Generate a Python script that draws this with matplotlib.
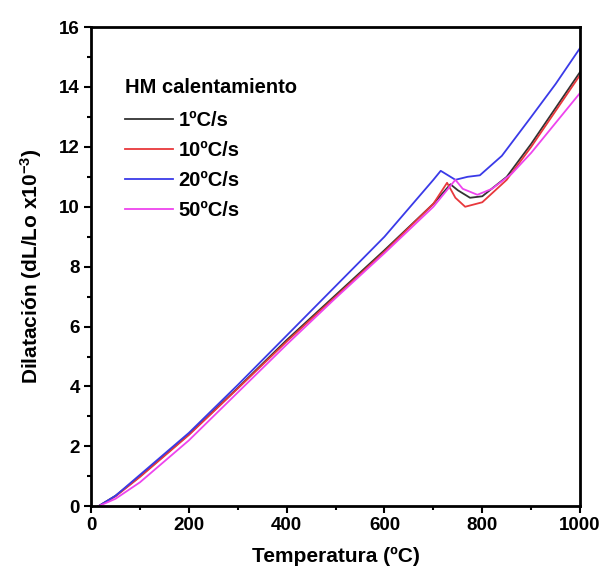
import matplotlib
matplotlib.use("Agg")
import matplotlib.pyplot as plt
from matplotlib.ticker import MultipleLocator

fam = 'Liberation Sans'
plt.rcParams['font.family'] = [fam, 'DejaVu Sans']
plt.rcParams['font.weight'] = 'bold'
plt.rcParams['mathtext.fontset'] = 'custom'
plt.rcParams['mathtext.rm'] = fam + ':bold'
plt.rcParams['mathtext.bf'] = fam + ':bold'
plt.rcParams['mathtext.default'] = 'bf'

labels = ["1ºC/s", "10ºC/s", "20ºC/s", "50ºC/s"]
colors = ["#333333", "#e8383c", "#3a3ae8", "#ee44ee"]

t_black = [15, 50, 100, 200, 300, 400, 500, 600, 700, 735, 750, 775, 800, 850, 900, 950, 1000]
d_black = [0, 0.35, 1.0, 2.4, 3.95, 5.55, 7.05, 8.55, 10.1, 10.75, 10.55, 10.3, 10.35, 11.0, 12.1, 13.3, 14.5]

t_red = [15, 50, 100, 200, 300, 400, 500, 600, 700, 728, 745, 765, 800, 850, 900, 950, 1000]
d_red = [0, 0.33, 0.98, 2.38, 3.93, 5.5, 7.0, 8.5, 10.1, 10.8, 10.3, 10.0, 10.15, 10.9, 12.0, 13.2, 14.4]

t_blue = [15, 50, 100, 200, 300, 400, 500, 600, 700, 715, 745, 770, 795, 840, 900, 950, 1000]
d_blue = [0, 0.35, 1.05, 2.45, 4.05, 5.7, 7.35, 9.0, 10.9, 11.2, 10.9, 11.0, 11.05, 11.7, 13.0, 14.1, 15.3]

t_mag = [15, 50, 100, 200, 300, 400, 500, 600, 700, 745, 760, 790, 820, 860, 900, 950, 1000]
d_mag = [0, 0.25, 0.8, 2.2, 3.8, 5.4, 6.95, 8.45, 10.0, 10.9, 10.6, 10.4, 10.6, 11.1, 11.8, 12.8, 13.8]

series = [(t_black, d_black), (t_red, d_red), (t_blue, d_blue), (t_mag, d_mag)]

fig = plt.figure(figsize=(6.03, 5.88), dpi=100)
ax = fig.add_axes([0.151, 0.139, 0.811, 0.815])

for (t, d), lab, c in zip(series, labels, colors):
    ax.plot(t, d, color=c, lw=1.3, label=lab)

ax.set_xlim(0, 1000)
ax.set_ylim(0, 16)
ax.xaxis.set_major_locator(MultipleLocator(200))
ax.xaxis.set_minor_locator(MultipleLocator(100))
ax.yaxis.set_major_locator(MultipleLocator(2))
ax.yaxis.set_minor_locator(MultipleLocator(1))
ax.tick_params(which='both', direction='out', width=1.5, labelsize=13.5, pad=3)
ax.tick_params(which='major', length=5)
ax.tick_params(which='minor', length=3)
for s in ax.spines.values():
    s.set_linewidth(2)

ax.set_xlabel("Temperatura (ºC)", fontsize=15, fontweight='bold', labelpad=9)
ax.set_ylabel("Dilatación (dL/Lo x10$^{-3}$)", fontsize=15, fontweight='bold', labelpad=11)

leg = ax.legend(title="HM calentamiento", loc='upper left', bbox_to_anchor=(0.07, 0.893),
                frameon=False, fontsize=14.5, handlelength=2.35, handletextpad=0.3,
                labelspacing=0.55, borderaxespad=0, borderpad=0)
leg.get_title().set_fontweight('bold')
leg.get_title().set_fontsize(14.5)
leg._legend_box.align = "left"
leg._legend_box.sep = 10

fig.savefig("out.png", dpi=100, facecolor='white')
